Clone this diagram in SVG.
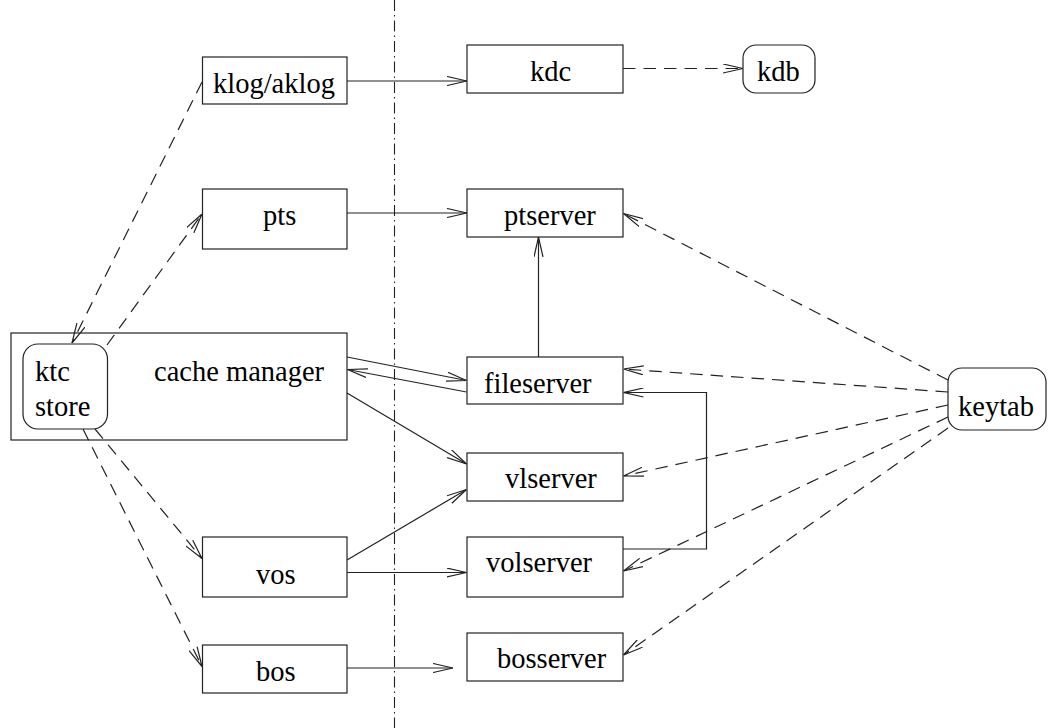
<svg xmlns="http://www.w3.org/2000/svg" width="1049" height="728" viewBox="0 0 1049 728">
<style>
.box{fill:#fff;stroke:#222;stroke-width:1.2}
.lbl{font-family:"Liberation Serif","Times New Roman",serif;font-size:28.5px;fill:#000}
.c{fill:none;stroke:#222;stroke-width:1.2;marker-end:url(#ah)}
.d{stroke-dasharray:12.5 8}
.sep{fill:none;stroke:#222;stroke-width:1.1;stroke-dasharray:11 4 1.5 4}
</style>
<defs>
<marker id="ah" viewBox="0 0 20 10" refX="20" refY="5" markerWidth="20" markerHeight="10" markerUnits="userSpaceOnUse" orient="auto">
<path d="M0,0.5 L20,5 L0,9.5" fill="none" stroke="#222" stroke-width="1.2" stroke-dasharray="none"/>
</marker>
</defs>
<rect width="1049" height="728" fill="#fff"/>
<line class="sep" x1="394.5" y1="0" x2="394.5" y2="728"/>
<g id="cache-manager"><rect class="box" x="11" y="333" width="336" height="107"/><text class="lbl" x="154" y="381">cache manager</text></g>
<g id="ktc-store"><rect class="box" x="23" y="344" width="84.5" height="85" rx="15"/><text class="lbl" x="35" y="381">ktc</text><text class="lbl" x="35" y="416">store</text></g>
<g id="klog"><rect class="box" x="202.5" y="57" width="144.5" height="47"/><text class="lbl" x="213" y="93">klog/aklog</text></g>
<g id="pts"><rect class="box" x="202.5" y="189" width="144.5" height="60"/><text class="lbl" x="263" y="225">pts</text></g>
<g id="vos"><rect class="box" x="202.5" y="537" width="144.5" height="60"/><text class="lbl" x="256" y="584">vos</text></g>
<g id="bos"><rect class="box" x="202.5" y="645" width="144.5" height="48"/><text class="lbl" x="256" y="681">bos</text></g>
<g id="kdc"><rect class="box" x="467" y="45" width="156" height="48"/><text class="lbl" x="530" y="81">kdc</text></g>
<g id="kdb"><rect class="box" x="743" y="45" width="72" height="48" rx="13"/><text class="lbl" x="757" y="81">kdb</text></g>
<g id="ptserver"><rect class="box" x="467" y="189" width="156" height="48"/><text class="lbl" x="504" y="225">ptserver</text></g>
<g id="fileserver"><rect class="box" x="467" y="357" width="156" height="47"/><text class="lbl" x="484" y="393">fileserver</text></g>
<g id="vlserver"><rect class="box" x="467" y="453" width="156" height="48"/><text class="lbl" x="505" y="488">vlserver</text></g>
<g id="volserver"><rect class="box" x="467" y="537" width="156" height="60"/><text class="lbl" x="486" y="572">volserver</text></g>
<g id="bosserver"><rect class="box" x="467" y="633" width="156" height="48"/><text class="lbl" x="497" y="668">bosserver</text></g>
<g id="keytab"><rect class="box" x="948" y="368" width="98" height="62" rx="14"/><text class="lbl" x="958" y="416">keytab</text></g>
<g id="connectors">
<path class="c" d="M347,81 H467"/>
<path class="c d" d="M623,68.5 H743"/>
<path class="c" d="M347,213 H467"/>
<path class="c" d="M538.5,357 V237"/>
<path class="c" d="M347,357 L466.5,380.5"/>
<path class="c" d="M466.5,392 L347.5,369.5"/>
<path class="c" d="M347,393 L466.5,464"/>
<path class="c" d="M347,560 L466.5,489.5"/>
<path class="c" d="M347,572.5 H466.5"/>
<path class="c" d="M347,668 H453"/>
<path class="c" d="M623,549 H706.5 V392.5 H623.5"/>
<path class="c d" d="M948,380 L623.5,213.5"/>
<path class="c d" d="M948,392 L623.5,369"/>
<path class="c d" d="M948,405 L623.5,476"/>
<path class="c d" d="M948,417 L623.5,571"/>
<path class="c d" d="M948,428 L623.5,655"/>
<path class="c d" d="M202,82 L72,343"/>
<path class="c d" d="M107,345 L202,214"/>
<path class="c d" d="M95,429 L202,558.5"/>
<path class="c d" d="M83,429 L202,666.5"/>
</g>
</svg>
